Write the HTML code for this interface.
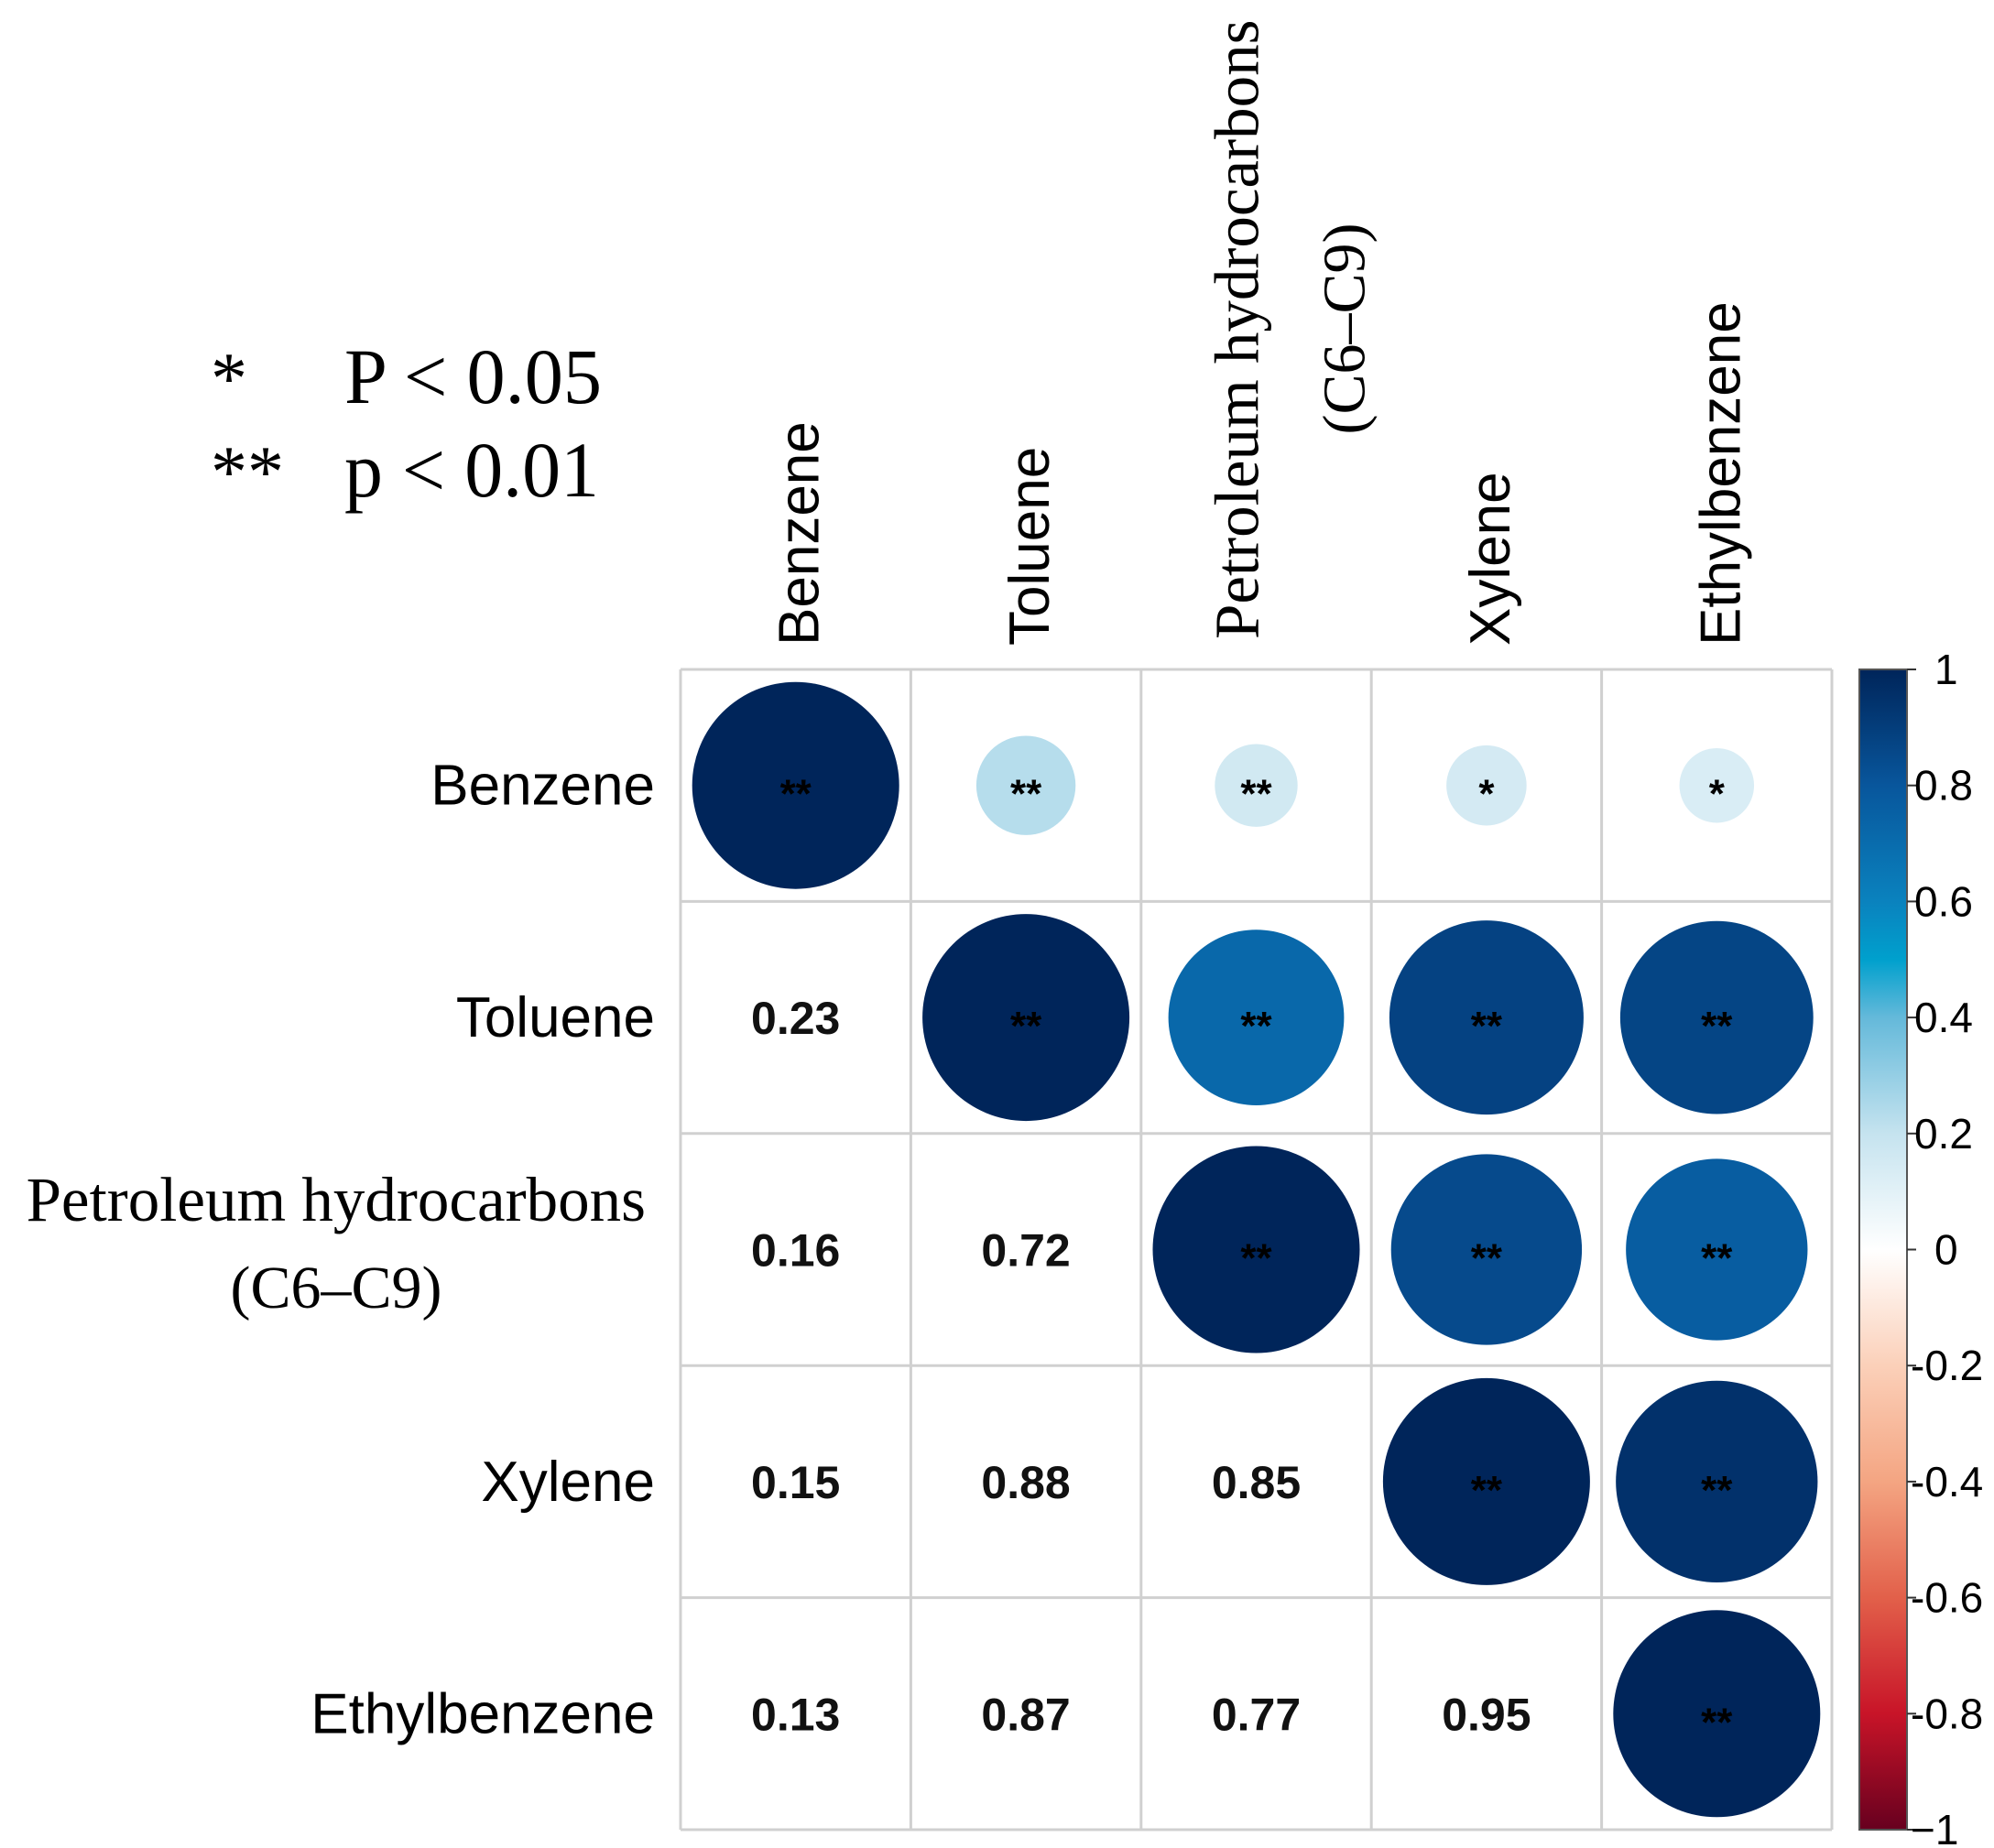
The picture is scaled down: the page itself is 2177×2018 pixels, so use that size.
<!DOCTYPE html>
<html><head><meta charset="utf-8"><style>
html,body{margin:0;padding:0;background:#fff;}
svg{display:block;}
.sans{font-family:"Liberation Sans",sans-serif;}
.serif{font-family:"Liberation Serif",serif;}
</style></head><body>
<svg id="chart" width="2177" height="2018" viewBox="0 0 2177 2018" xmlns="http://www.w3.org/2000/svg">
<g>
<text class="serif" x="230" y="440" font-size="80">*</text>
<text class="serif" x="376" y="440" font-size="86" textLength="281" lengthAdjust="spacingAndGlyphs">P &lt; 0.05</text>
<text class="serif" x="230" y="542" font-size="80">**</text>
<text class="serif" x="376" y="542" font-size="86" textLength="278" lengthAdjust="spacingAndGlyphs">p &lt; 0.01</text>
</g>
<g id="grid"></g>
<g id="marks"></g>
<g id="labels"></g>
<g id="cbar"></g>
</svg>
<script>
const vars = ["Benzene","Toluene","Petroleum hydrocarbons (C6–C9)","Xylene","Ethylbenzene"];
const corr = [
 [1,0.23,0.16,0.15,0.13],
 [0.23,1,0.72,0.88,0.87],
 [0.16,0.72,1,0.85,0.77],
 [0.15,0.88,0.85,1,0.95],
 [0.13,0.87,0.77,0.95,1]
];
const sig = [
 ["**","**","**","*","*"],
 ["**","**","**","**","**"],
 ["**","**","**","**","**"],
 ["*","**","**","**","**"],
 ["*","**","**","**","**"]
];
const cbarTicks = [1,0.8,0.6,0.4,0.2,0,-0.2,-0.4,-0.6,-0.8,-1];
const cbarLabels = ["1","0.8","0.6","0.4","0.2","0","-0.2","-0.4","-0.6","-0.8","\u22121"];

const NS="http://www.w3.org/2000/svg";
const X0=743,Y0=731,CW=251.4,CH=253.4,RMAX=113;
const n=vars.length;
const cx=i=>X0+CW*(i+0.5), cy=j=>Y0+CH*(j+0.5);
const stops=[[-1,[103,0,31]],[-0.8,[200,20,40]],[-0.6,[226,96,74]],[-0.4,[244,165,130]],[-0.2,[251,208,185]],[0,[255,255,255]],[0.2,[197,227,239]],[0.4,[100,185,218]],[0.5,[0,160,205]],[0.6,[10,130,190]],[0.8,[8,86,156]],[1,[0,37,90]]];
function color(v){
 for(let k=0;k<stops.length-1;k++){const a=stops[k],b=stops[k+1];
  if(v>=a[0]&&v<=b[0]){const t=(v-a[0])/(b[0]-a[0]);const c=a[1].map((x,m)=>Math.round(x+(b[1][m]-x)*t));return `rgb(${c})`;}}
 return "#000";
}
function mk(tag,attrs,parent,text){const e=document.createElementNS(NS,tag);for(const k in attrs)e.setAttribute(k,attrs[k]);if(text!==undefined)e.textContent=text;parent.appendChild(e);return e;}

const grid=document.getElementById('grid');
for(let i=0;i<=n;i++){
 const l1=mk('line',{x1:X0+CW*i,y1:Y0,x2:X0+CW*i,y2:Y0+CH*n,stroke:'#d0d0d0','stroke-width':3},grid);
 
 
 const l2=mk('line',{x1:X0,y1:Y0+CH*i,x2:X0+CW*n,y2:Y0+CH*i,stroke:'#d0d0d0','stroke-width':3},grid);
 
 
}
const marks=document.getElementById('marks');
for(let j=0;j<n;j++)for(let i=0;i<n;i++){
 const v=corr[j][i];
 if(i>=j){
  const c=mk('circle',{cx:cx(i),cy:cy(j),r:RMAX*Math.sqrt(Math.abs(v)),fill:color(v)},marks);
  
  
  const s=mk('text',{x:cx(i),y:cy(j)+24,'text-anchor':'middle','font-size':44,'font-weight':'bold',fill:'#000',class:'sans'},marks,sig[j][i]);
  
  
 } else {
  const t=mk('text',{x:cx(i),y:cy(j)+18,'text-anchor':'middle','font-size':50,'font-weight':'bold',fill:'#111',class:'sans'},marks,v.toFixed(2));
  
  
 }
}
const labels=document.getElementById('labels');
for(let i=0;i<n;i++){
 if(i===2){
  const a=mk('text',{transform:`translate(${cx(i)+2},${698}) rotate(-90)`,'font-size':69,class:'serif','text-anchor':'start'},labels,'Petroleum hydrocarbons');
  
  
  const b=mk('text',{transform:`translate(${cx(i)+118},${359}) rotate(-90)`,'font-size':66,class:'serif','text-anchor':'middle'},labels,'(C6–C9)');
  
  
  const c=mk('text',{x:705,y:1333,'font-size':69,class:'serif','text-anchor':'end'},labels,'Petroleum hydrocarbons');
  
  
  const d=mk('text',{x:367,y:1428,'font-size':66,class:'serif','text-anchor':'middle'},labels,'(C6–C9)');
  
  
 } else {
  const a=mk('text',{transform:`translate(${cx(i)+25},${705}) rotate(-90)`,'font-size':62,class:'sans'},labels,vars[i]);
  
  
  const b=mk('text',{x:715,y:cy(i)+21,'font-size':62,class:'sans','text-anchor':'end'},labels,vars[i]);
  
  
 }
}
// colorbar
const cb=document.getElementById('cbar');
const BX=2030,BW=52,BT=731,BB=1998;
const defs=mk('defs',{},cb);
const g=mk('linearGradient',{id:'cg',x1:0,y1:1,x2:0,y2:0},defs);
stops.forEach(s=>mk('stop',{offset:(s[0]+1)/2,'stop-color':`rgb(${s[1]})`},g));
const rect=mk('rect',{x:BX,y:BT,width:BW,height:BB-BT,fill:'url(#cg)',stroke:'#555','stroke-width':2},cb);


const cby=v=>BB-(v+1)/2*(BB-BT);
cbarTicks.forEach((v,k)=>{
 const tk=mk('line',{x1:BX+BW,x2:BX+BW+10,y1:cby(v),y2:cby(v),stroke:'#333','stroke-width':2},cb);
 
 
 const neg=v<0;
 const tx=mk('text',{x:neg?BX+BW+4:BX+BW+8,y:cby(v)+16,'font-size':46,class:'sans'},cb,cbarLabels[k]);
 if(v===0||v===1){tx.setAttribute('x',BX+BW+30);}
 
 
});
</script>
</body></html>
